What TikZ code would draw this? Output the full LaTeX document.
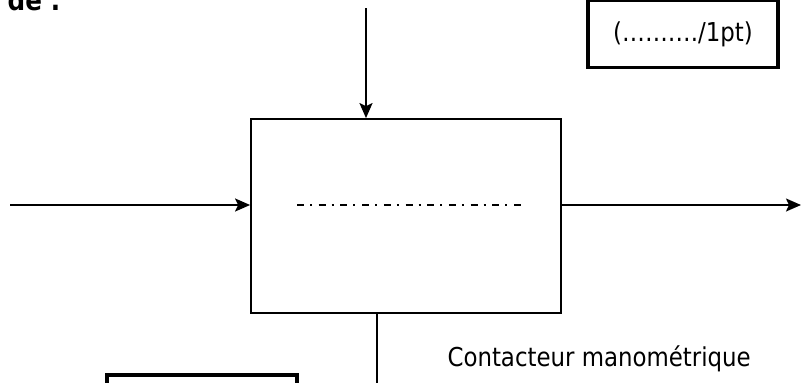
\documentclass[tikz,border=0pt]{standalone}
\usepackage{fontspec}
\setmainfont{DejaVu Sans}[FakeStretch=0.88]
\usetikzlibrary{arrows.meta}
\tikzset{
  cadre/.style={draw, line width=3.3pt, inner sep=0pt},
  trait/.style={line width=1.8pt},
  fleche/.style={trait, -{Stealth[length=15pt,width=13pt,inset=3pt]}},
}
\begin{document}
\begin{tikzpicture}[x=1pt,y=-1pt,font=\fontsize{26}{30}\selectfont]
\useasboundingbox (0,0) rectangle (807,383);
\clip (0,0) rectangle (807,383);
% bloc central
\node[draw, trait, minimum width=310pt, minimum height=194pt] (bloc) at (406,216) {};
\coordinate (entree) at (10,205);
\coordinate (sortie) at (801,205);
\coordinate (haut) at (366,8);
\coordinate (bas) at (377,390);
\coordinate (axeA) at (297,205);
\coordinate (axeB) at (522,205);
\path[draw,fleche] (entree) -- (bloc.west |- entree);
\path[draw,fleche] (bloc.east |- sortie) -- (sortie);
\path[draw,fleche] (haut) -- (haut |- bloc.north);
\path[draw,trait] (bloc.south -| bas) -- (bas);
\path[draw,trait,dash pattern=on 7pt off 6pt on 2pt off 6.7pt] (axeA) -- (axeB);
% textes
\node[anchor=base east, font=\fontsize{28}{32}\selectfont\bfseries] (de) at (64,10) {de :};
\node[cadre, minimum width=190pt, minimum height=67pt] (note) at (683,34) {(………./1pt)};
\node[anchor=base west] (contact) at (444,366) {Contacteur manométrique};
\node[cadre, minimum width=190pt, minimum height=80pt] (boite) at (202,415) {};
\end{tikzpicture}
\end{document}
